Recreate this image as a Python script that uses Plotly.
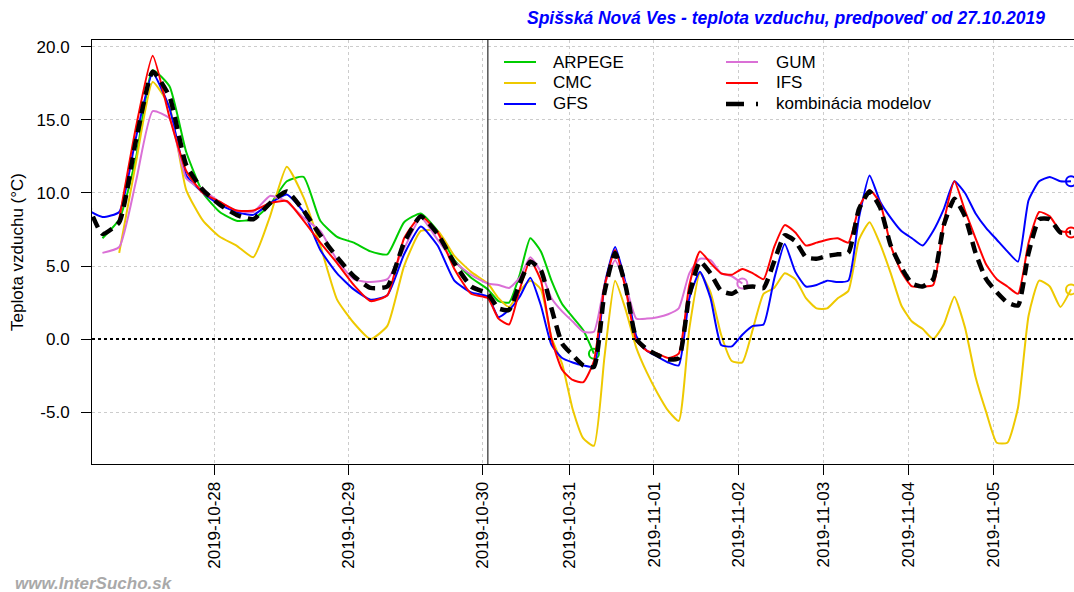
import plotly.graph_objects as go

# ---------------- data ----------------
# time grid: hours since 2019-10-27 00:00 (3-hourly)
HOURS = list(range(1, 239, 3))
BREAK_HOUR = 73          # start of forecast (vertical line)

TICK_HOURS = [24, 48, 72, 96, 120, 144, 168, 192, 216]
TICK_LABELS = ["2019-10-28", "2019-10-29", "2019-10-30", "2019-10-31", "2019-11-01",
               "2019-11-02", "2019-11-03", "2019-11-04", "2019-11-05"]

Y_TICKS = [-5, 0, 5, 10, 15, 20]
Y_LABELS = ["-5.0", "0.0", "5.0", "10.0", "15.0", "20.0"]

N = None
ARPEGE = [N, 6.9, 8.2, 12.4, 18.4, 17.3, 12.8, 10.0, 8.7, 8.1, 8.2, 9.2, 10.8,
          11.1, 8.1, 7.0, 6.6, 6.0, 5.8, 8.0, 8.6, 7.4, 5.4, 4.2, 3.4,
          2.6, 2.5, 4.4, 6.9, 6.0, 4.0, 2.4, 1.5, 0.6, -1.0] + [N] * 45

CMC = [N, N, 5.9, 12.1, 17.6, 15.9, 10.2, 8.1, 7.0, 6.4, 5.6, 8.4, 11.8,
       9.7, 6.4, 2.7, 1.1, 0.0, 0.9, 5.0, 7.4, 7.4, 5.7, 4.6, 3.8,
       2.8, 2.2, 3.3, 4.0, 3.4, 0.1, -1.7, -4.8, -6.8, -7.3, -1.2, 4.0, 2.0,
       -0.6, -2.3, -3.7, -4.9, -5.6, 0.7, 4.5, 3.2, 0.3, -1.5, -1.6, 0.7,
       3.1, 3.5, 4.5, 4.1, 2.8, 2.1, 2.1, 2.8, 3.3, 6.8, 8.0, 6.5, 4.5,
       2.3, 1.2, 0.7, 0.0, 1.0, 2.9, 0.8, -2.6, -5.0, -7.1, -7.1, -4.7,
       1.6, 4.0, 3.6, 2.2, 3.4]

GFS = [8.9, 8.35, 8.7, 13.8, 18.2, 15.8, 11.2, 10.0, 9.2, 8.7, 8.5, 9.3, 9.9,
       8.7, 6.1, 4.5, 3.4, 2.7, 3.0, 5.8, 7.7, 6.4, 4.0, 3.2, 2.9,
       1.5, 2.0, 2.9, 4.2, 2.3, -0.4, -1.3, -1.6, -1.8, -1.9, 3.7, 6.3, 3.8,
       0.2, -0.8, -1.2, -1.6, -1.8, 2.8, 4.6, 2.8, -0.4, -0.5, 0.3, 0.9,
       1.0, 4.1, 6.5, 4.6, 3.6, 3.7, 4.0, 3.9, 4.0, 8.3, 11.2, 9.4, 8.3,
       7.4, 6.9, 6.4, 7.4, 8.9, 10.8, 10.0, 8.6, 7.6, 6.8, 6.0, 5.3,
       9.5, 10.8, 11.1, 10.8, 10.8]

GUM = [N, 5.9, 6.3, 10.8, 15.6, 15.1, 11.0, 10.2, 9.4, 8.8, 8.7, 9.8, 9.4,
       8.3, 7.4, 5.4, 4.1, 3.9, 4.1, 6.2, 8.3, 6.8, 5.3, 4.4, 3.8,
       3.7, 3.5, 4.2, 5.6, 4.6, 2.8, 1.9, 1.2, 0.5, 0.5, 3.7, 5.4, 3.7,
       1.4, 1.4, 1.5, 1.7, 2.1, 4.5, 5.5, 5.4, 4.5, 4.3, 3.8] + [N] * 31

IFS = [N, N, 8.2, 14.5, 19.4, 15.2, 11.5, 10.0, 9.4, 8.8, 8.8, 9.3, 9.45,
       8.1, 6.6, 5.2, 3.7, 2.6, 3.0, 6.9, 8.4, 7.3, 4.8, 3.1, 2.8,
       1.4, 1.0, 3.4, 5.4, 4.0, 0.0, -2.1, -2.8, -2.95, -1.5, 3.6, 6.1, 3.4,
       -0.1, -0.8, -1.0, -1.3, -1.0, 3.7, 6.0, 5.2, 4.5, 4.4, 4.8, 4.5,
       4.1, 6.3, 7.8, 7.3, 6.4, 6.6, 6.8, 6.9, 6.6, 9.0, 10.2, 9.3, 6.4,
       4.6, 3.6, 3.6, 3.7, 8.0, 10.8, 8.8, 6.9, 5.1, 4.1, 3.6, 3.1,
       6.6, 8.7, 8.4, 7.4, 7.3]

KOMBINACIA = [9.6, 7.2, 8.0, 13.6, 18.3, 16.6, 11.9, 10.2, 9.2, 8.5, 8.2, 9.3, 10.1,
              8.8, 7.1, 5.6, 4.3, 3.5, 3.6, 6.6, 8.4, 7.2, 5.2, 3.6, 3.1,
              2.1, 2.0, 3.8, 5.3, 4.7, 2.1, -0.3, -1.1, -1.8, -1.9, 3.2, 5.9, 3.6,
              0.0, -0.7, -1.1, -1.4, -1.3, 3.0, 5.3, 4.5, 3.3, 3.1, 3.5, 3.6,
              3.5, 5.3, 7.1, 6.7, 5.6, 5.5, 5.7, 5.8, 5.9, 8.9, 10.1, 9.0, 6.4,
              4.9, 3.8, 3.6, 4.1, 7.8, 9.6, 8.4, 5.9, 4.1, 3.2, 2.5, 2.3,
              5.9, 8.2, 8.2, 7.3, 7.3]

# ---------------- scale / layout constants ----------------
FORECAST_SCALE = 84.9 / 134.2   # forecast days are drawn narrower than past days
W, H = 1074, 592
ML, MR, MT, MB = 92, 0, 40, 128
PW, PH = W - ML - MR, H - MT - MB


def xpos(h):
    if h <= BREAK_HOUR:
        return (h - 24) / 24.0
    return (BREAK_HOUR - 24) / 24.0 + (h - BREAK_HOUR) / 24.0 * FORECAST_SCALE


def px_x(px):   # pixel -> paper
    return (px - ML) / PW


def px_y(py):
    return (H - MB - py) / PH


X = [xpos(h) for h in HOURS]

series = [
    ("ARPEGE", ARPEGE, "#00CD00", 2, "solid", True),
    ("CMC", CMC, "#EEC900", 2, "solid", True),
    ("GFS", GFS, "#0000FF", 2, "solid", True),
    ("GUM", GUM, "#DA70D6", 2, "solid", True),
    ("IFS", IFS, "#FF0000", 2, "solid", True),
    ("kombinácia modelov", KOMBINACIA, "#000000", 4.5, "12px,7px", False),
]

fig = go.Figure()
for name, vals, color, width, dash, end_mark in series:
    fig.add_trace(go.Scatter(x=X, y=vals, mode="lines", name=name, showlegend=False,
                             line=dict(color=color, width=width, dash=dash,
                                       shape="spline", smoothing=0.5),
                             connectgaps=False))
    if end_mark:
        last = max(i for i, v in enumerate(vals) if v is not None)
        fig.add_trace(go.Scatter(x=[X[last]], y=[vals[last]], mode="markers",
                                 showlegend=False, hoverinfo="skip",
                                 marker=dict(symbol="circle-open", size=10, color=color,
                                             line=dict(width=2, color=color))))

shapes = [
    dict(type="line", xref="paper", x0=0, x1=1, yref="y", y0=0, y1=0,
         line=dict(color="black", width=2, dash="dot")),
    dict(type="line", xref="x", x0=xpos(BREAK_HOUR), x1=xpos(BREAK_HOUR),
         yref="paper", y0=0, y1=1, line=dict(color="black", width=1)),
]

FONT = "Liberation Sans, Arial, sans-serif"
annotations = []

# legend (two columns, drawn as keys + labels)
LEG_COLS = [(504, 551), (726, 774)]
LEG_ROWS = [62, 83, 104]
for i, (name, vals, color, width, dash, end_mark) in enumerate(series):
    col, row = divmod(i, 3)
    x0, xt = LEG_COLS[col]
    yy = px_y(LEG_ROWS[row])
    key_dash = "18px,12px,3px,60px" if dash != "solid" else "solid"
    shapes.append(dict(type="line", xref="paper", yref="paper",
                       x0=px_x(x0), x1=px_x(x0 + 32), y0=yy, y1=yy,
                       line=dict(color=color, width=width, dash=key_dash)))
    annotations.append(dict(text=name, xref="paper", yref="paper", x=px_x(xt), y=yy,
                            xanchor="left", yanchor="middle", showarrow=False,
                            font=dict(family=FONT, size=17, color="black")))

annotations.append(dict(text="<b><i>www.InterSucho.sk</i></b>", xref="paper", yref="paper",
                        x=px_x(13), y=px_y(583), xanchor="left", yanchor="middle",
                        showarrow=False, font=dict(family=FONT, size=17, color="#A9A9A9")))

grid = dict(showgrid=True, gridcolor="#CCCCCC", griddash="dot", gridwidth=1)

fig.update_layout(
    width=W, height=H,
    margin=dict(l=ML, r=MR, t=MT, b=MB, autoexpand=False),
    plot_bgcolor="white", paper_bgcolor="white",
    font=dict(family=FONT, size=17, color="black"),
    showlegend=False,
    title=dict(text="<b><i>Spišská Nová Ves - teplota vzduchu, predpoveď od 27.10.2019</i></b>",
               font=dict(family=FONT, size=17.5, color="#0000FF"),
               xref="container", x=1045 / W, xanchor="right",
               yref="container", y=1 - 18 / H, yanchor="middle", automargin=False),
    xaxis=dict(range=[-0.9113, 6.4135], tickmode="array",
               tickvals=[xpos(h) for h in TICK_HOURS], ticktext=TICK_LABELS,
               tickangle=-90, ticks="outside", ticklen=10, tickcolor="black",
               showline=True, linecolor="black", linewidth=1, mirror=True,
               zeroline=False, tickfont=dict(size=17), automargin=False, **grid),
    yaxis=dict(range=[-8.55, 20.47], tickmode="array", tickvals=Y_TICKS, ticktext=Y_LABELS,
               ticks="outside", ticklen=10, tickcolor="black", ticklabelstandoff=8,
               showline=True, linecolor="black", linewidth=1, mirror=True,
               zeroline=False, tickfont=dict(size=17), automargin=False,
               title=dict(text="Teplota vzduchu (°C)", font=dict(size=17), standoff=8),
               **grid),
    shapes=shapes,
    annotations=annotations,
)

fig.write_html("out.html", config={"displayModeBar": False},
               post_script="document.body.style.margin='0';document.body.style.overflow='hidden';")
